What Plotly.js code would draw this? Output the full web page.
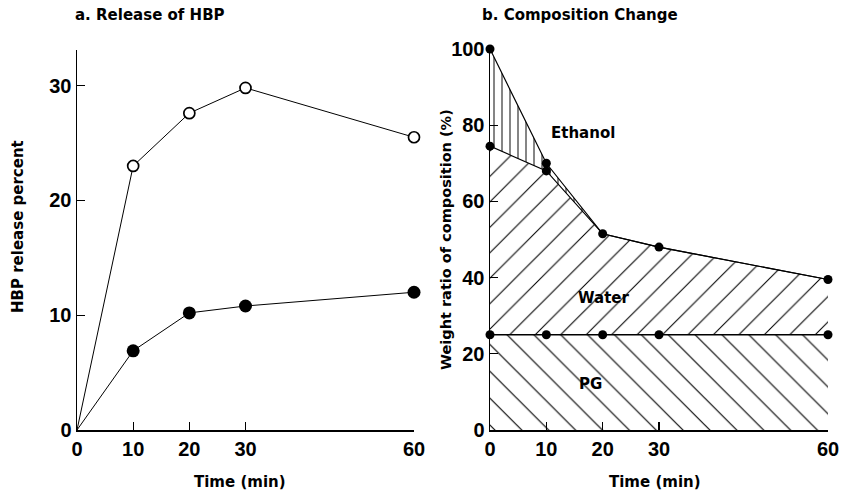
<!DOCTYPE html>
<html>
<head>
<meta charset="utf-8">
<script src="https://cdn.plot.ly/plotly-3.0.1.min.js"></script>
<style>html,body{margin:0;padding:0;background:#fff;}#chart{width:843px;height:494px;}</style>
</head>
<body>
<div id="chart"></div>
<script>
// Panel a: release of HBP
const timeA = [0, 10, 20, 30, 60];
const releaseOpen = [0, 23.0, 27.6, 29.8, 25.5];
const releaseFilled = [0, 6.9, 10.2, 10.8, 12.0];

// Panel b: composition (weight %)
const timeB = [0, 10, 20, 30, 60];
const pgPart = [25, 25, 25, 25, 25];
const waterPart = [49.5, 43, 26.5, 23, 14.5];
const ethanolPart = [25.5, 2, 0, 0, 0];

const ticksA = [0, 10, 20, 30, 60];
const yTicksA = [0, 10, 20, 30];
const ticksB = [0, 10, 20, 30, 60];
const yTicksB = [0, 20, 40, 60, 80, 100];

const pgTop = pgPart.slice();
const waterTop = pgPart.map((v, i) => v + waterPart[i]);
const ethTop = waterTop.map((v, i) => v + ethanolPart[i]);

const W = 843, H = 494;
const FONT = 'DejaVu Sans, Liberation Sans, Arial, sans-serif';
const TICKFONT = 'Liberation Sans, Arial, Helvetica, sans-serif';

const traces = [
  // panel a lines (start at origin, no marker there)
  {x: timeA, y: releaseOpen, xaxis: 'x', yaxis: 'y', mode: 'lines', cliponaxis: false,
   line: {color: '#000', width: 1}},
  {x: timeA, y: releaseFilled, xaxis: 'x', yaxis: 'y', mode: 'lines', cliponaxis: false,
   line: {color: '#000', width: 1}},
  {x: timeA.slice(1), y: releaseOpen.slice(1), xaxis: 'x', yaxis: 'y', mode: 'markers', cliponaxis: false,
   marker: {symbol: 'circle', size: 11, color: '#fff', line: {color: '#000', width: 1.7}}},
  {x: timeA.slice(1), y: releaseFilled.slice(1), xaxis: 'x', yaxis: 'y', mode: 'markers', cliponaxis: false,
   marker: {symbol: 'circle', size: 13, color: '#000'}},
  // panel b stacked hatched areas
  {x: timeB, y: pgTop, xaxis: 'x2', yaxis: 'y2', mode: 'lines', fill: 'tozeroy', cliponaxis: false,
   line: {color: '#000', width: 1.5}, fillcolor: 'rgba(255,255,255,0)',
   fillpattern: {shape: '\\', size: 19, solidity: 0.06, fgcolor: '#000', bgcolor: '#fff'}},
  {x: timeB, y: waterTop, xaxis: 'x2', yaxis: 'y2', mode: 'lines', fill: 'tonexty', cliponaxis: false,
   line: {color: '#000', width: 1.2}, fillcolor: 'rgba(255,255,255,0)',
   fillpattern: {shape: '/', size: 18, solidity: 0.06, fgcolor: '#000', bgcolor: '#fff'}},
  {x: timeB, y: ethTop, xaxis: 'x2', yaxis: 'y2', mode: 'lines', fill: 'tonexty', cliponaxis: false,
   line: {color: '#000', width: 1.2}, fillcolor: 'rgba(255,255,255,0)',
   fillpattern: {shape: '|', size: 8, solidity: 0.12, fgcolor: '#000', bgcolor: '#fff'}},
  // panel b markers
  {x: timeB, y: pgTop, xaxis: 'x2', yaxis: 'y2', mode: 'markers', cliponaxis: false,
   marker: {size: 9, color: '#000'}},
  {x: timeB, y: waterTop, xaxis: 'x2', yaxis: 'y2', mode: 'markers', cliponaxis: false,
   marker: {size: 9, color: '#000'}},
  {x: timeB.slice(0, 2), y: ethTop.slice(0, 2), xaxis: 'x2', yaxis: 'y2', mode: 'markers', cliponaxis: false,
   marker: {size: 9, color: '#000'}}
];

const axisCommon = {
  showgrid: false, zeroline: false, showline: true, linecolor: '#000', linewidth: 1.5,
  ticks: 'inside', ticklen: 8, tickwidth: 1.2, tickcolor: '#000',
  tickfont: {family: TICKFONT, size: 20, weight: 'bold', color: '#000'}, fixedrange: true
};

const titleFont = {family: FONT, size: 15, weight: 'bold', color: '#000'};
const labelFont = {family: FONT, size: 15, weight: 'bold', color: '#000'};

const layout = {
  width: W, height: H,
  margin: {l: 0, r: 0, t: 0, b: 0},
  paper_bgcolor: '#fff', plot_bgcolor: 'rgba(0,0,0,0)',
  showlegend: false,
  font: {family: FONT, color: '#000'},
  xaxis: Object.assign({}, axisCommon, {domain: [77 / W, 414 / W], range: [0, 60], anchor: 'y',
    tickmode: 'array', tickvals: ticksA, ticktext: ticksA.map(String)}),
  yaxis: Object.assign({}, axisCommon, {domain: [(H - 430) / H, (H - 50) / H], range: [0, 33.1], anchor: 'x',
    tickmode: 'array', tickvals: yTicksA, ticktext: yTicksA.map(String)}),
  xaxis2: Object.assign({}, axisCommon, {domain: [490 / W, 828 / W], range: [0, 60], anchor: 'y2',
    tickmode: 'array', tickvals: ticksB, ticktext: ticksB.map(String)}),
  yaxis2: Object.assign({}, axisCommon, {domain: [(H - 430) / H, (H - 49) / H], range: [0, 100], anchor: 'x2',
    tickmode: 'array', tickvals: yTicksB, ticktext: yTicksB.map(String)}),
  annotations: [
    {text: 'a. Release of HBP', xref: 'paper', yref: 'paper', x: 150 / W, y: (H - 15) / H,
     showarrow: false, font: titleFont, xanchor: 'center', yanchor: 'middle'},
    {text: 'b. Composition Change', xref: 'paper', yref: 'paper', x: 580 / W, y: (H - 15) / H,
     showarrow: false, font: titleFont, xanchor: 'center', yanchor: 'middle'},
    {text: 'Time (min)', xref: 'paper', yref: 'paper', x: 240 / W, y: (H - 482) / H,
     showarrow: false, font: labelFont, xanchor: 'center', yanchor: 'middle'},
    {text: 'Time (min)', xref: 'paper', yref: 'paper', x: 655 / W, y: (H - 482) / H,
     showarrow: false, font: labelFont, xanchor: 'center', yanchor: 'middle'},
    {text: 'HBP release percent', xref: 'paper', yref: 'paper', x: 18 / W, y: (H - 227) / H,
     showarrow: false, textangle: -90, font: labelFont, xanchor: 'center', yanchor: 'middle'},
    {text: 'Weight ratio of composition (%)', xref: 'paper', yref: 'paper', x: 446 / W, y: (H - 239) / H,
     showarrow: false, textangle: -90, font: {family: FONT, size: 14.5, weight: 'bold', color: '#000'},
     xanchor: 'center', yanchor: 'middle'},
    {text: 'Ethanol', xref: 'x2', yref: 'y2', x: 16.5, y: 78, showarrow: false, font: labelFont},
    {text: 'Water', xref: 'x2', yref: 'y2', x: 20.1, y: 34.6, showarrow: false, font: labelFont},
    {text: 'PG', xref: 'x2', yref: 'y2', x: 17.8, y: 12, showarrow: false, font: labelFont}
  ]
};

Plotly.newPlot('chart', traces, layout, {displayModeBar: false, staticPlot: true});
</script>
</body>
</html>
